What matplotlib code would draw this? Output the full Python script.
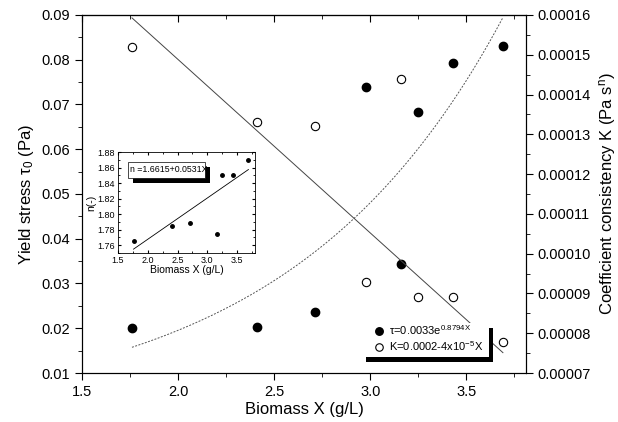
import matplotlib.pyplot as plt
import numpy as np
from matplotlib.ticker import MultipleLocator, FormatStrFormatter
from matplotlib.patches import Rectangle

plt.rcParams['font.family'] = ['Liberation Sans', 'DejaVu Sans']
plt.rcParams['mathtext.fontset'] = 'custom'
plt.rcParams['mathtext.rm'] = 'Liberation Sans'
plt.rcParams['mathtext.it'] = 'Liberation Sans'

# data
biomass = [1.76, 2.41, 2.71, 2.98, 3.16, 3.25, 3.43, 3.69]
yield_stress = [0.0200, 0.0203, 0.0236, 0.0740, 0.0343, 0.0683, 0.0792, 0.0830]
k_coef = [0.000152, 0.000133, 0.000132, 0.0000930, 0.000144, 0.0000890, 0.0000890, 0.0000778]

# inset: flow index n
biomass_n = [1.76, 2.41, 2.71, 3.16, 3.25, 3.43, 3.69]
n_index = [1.766, 1.785, 1.789, 1.775, 1.850, 1.850, 1.870]

# fitted curves as drawn
tau_a, tau_b = 0.00323, 0.90
k_a, k_b = 0.000236, 4.36e-5
n_a, n_b = 1.6615, 0.0531

fig = plt.figure(figsize=(6.18, 4.22), dpi=100)
ax = fig.add_axes([0.1327, 0.1161, 0.7184, 0.8484])
ax2 = ax.twinx()

xs = np.linspace(1.76, 3.69, 200)
ax.plot(xs, tau_a * np.exp(tau_b * xs), color='#555555', lw=0.7, ls=(0, (2, 1.5)))
ax2.plot(xs, k_a - k_b * xs, color='#444444', lw=0.7)

h1, = ax.plot(biomass, yield_stress, 'o', color='black', ms=6, zorder=5)
h2, = ax2.plot(biomass, k_coef, 'o', mfc='white', mec='black', mew=0.8, ms=6, zorder=5)

ax.set_xlim(1.5, 3.81)
ax.set_ylim(0.01, 0.09)
ax2.set_ylim(0.00007, 0.00016)

ax.xaxis.set_major_locator(MultipleLocator(0.5))
ax.xaxis.set_minor_locator(MultipleLocator(0.25))
ax.yaxis.set_major_locator(MultipleLocator(0.01))
ax.yaxis.set_minor_locator(MultipleLocator(0.005))
ax2.yaxis.set_major_locator(MultipleLocator(0.00001))
ax2.yaxis.set_minor_locator(MultipleLocator(0.000005))
ax.xaxis.set_major_formatter(FormatStrFormatter('%.1f'))
ax.yaxis.set_major_formatter(FormatStrFormatter('%.2f'))
ax2.yaxis.set_major_formatter(FormatStrFormatter('%.5f'))

ax.tick_params(which='both', direction='out', labelsize=10.5)
ax.tick_params(which='major', length=5)
ax.tick_params(which='minor', length=3)
ax2.tick_params(which='major', direction='out', length=5, labelsize=10.5)
ax2.tick_params(which='minor', direction='out', length=3)

# top axis: inward ticks, no labels
top = ax.secondary_xaxis('top')
top.xaxis.set_major_locator(MultipleLocator(0.5))
top.xaxis.set_minor_locator(MultipleLocator(0.25))
top.tick_params(which='both', direction='in', labeltop=False)
top.tick_params(which='major', length=5)
top.tick_params(which='minor', length=3)

ax.set_xlabel('Biomass X (g/L)', fontsize=12, labelpad=2)
ax.set_ylabel('Yield stress τ$_0$ (Pa)', fontsize=12, labelpad=4)
ax2.set_ylabel('Coefficient consistency K (Pa s$^n$)', fontsize=12, labelpad=4)

# legend with drop shadow
fig.add_artist(Rectangle((0.5923, 0.142), 0.2055, 0.081, transform=fig.transFigure,
                         facecolor='black', edgecolor='none', zorder=3))
fig.add_artist(Rectangle((0.5858, 0.154), 0.2055, 0.081, transform=fig.transFigure,
                         facecolor='white', edgecolor='none', zorder=3.1))
leg = fig.legend([h1, h2], ['τ=0.0033e$^{0.8794X}$', 'K=0.0002-4x10$^{-5}$X'],
                 loc='upper left', bbox_to_anchor=(0.592, 0.25), frameon=False,
                 fontsize=8, handletextpad=0.3, labelspacing=0.2, borderpad=0.1,
                 handlelength=1.2, markerscale=0.9)
leg.set_zorder(4)

# inset
axi = fig.add_axes([0.191, 0.4005, 0.2216, 0.2393])
axi.plot(biomass_n, n_index, 'o', color='black', ms=2.5)
xn = np.linspace(1.76, 3.69, 50)
axi.plot(xn, n_a + n_b * xn, color='black', lw=0.6)
axi.set_xlim(1.5, 3.8)
axi.set_ylim(1.75, 1.88)
axi.xaxis.set_major_locator(MultipleLocator(0.5))
axi.xaxis.set_minor_locator(MultipleLocator(0.25))
axi.yaxis.set_major_locator(MultipleLocator(0.02))
axi.yaxis.set_minor_locator(MultipleLocator(0.01))
axi.xaxis.set_major_formatter(FormatStrFormatter('%.1f'))
axi.yaxis.set_major_formatter(FormatStrFormatter('%.2f'))
axi.tick_params(which='both', labelsize=6.5, direction='in', top=True, right=True, pad=2)
axi.tick_params(which='major', length=2.5)
axi.tick_params(which='minor', length=1.5)
axi.set_xlabel('Biomass X (g/L)', fontsize=7.5, labelpad=0)
axi.set_ylabel('n(-)', fontsize=7.5, labelpad=1)
for s in axi.spines.values():
    s.set_linewidth(0.6)

fig.add_artist(Rectangle((0.2152, 0.5664), 0.1246, 0.0379, transform=fig.transFigure,
                         facecolor='black', edgecolor='none', zorder=5))
fig.add_artist(Rectangle((0.2071, 0.5782), 0.1246, 0.0379, transform=fig.transFigure,
                         facecolor='white', edgecolor='black', lw=0.5, zorder=5.1))
fig.text(0.2105, 0.5972, 'n =1.6615+0.0531X', fontsize=6.3, va='center', zorder=6)

fig.savefig('out.png', dpi=100)
